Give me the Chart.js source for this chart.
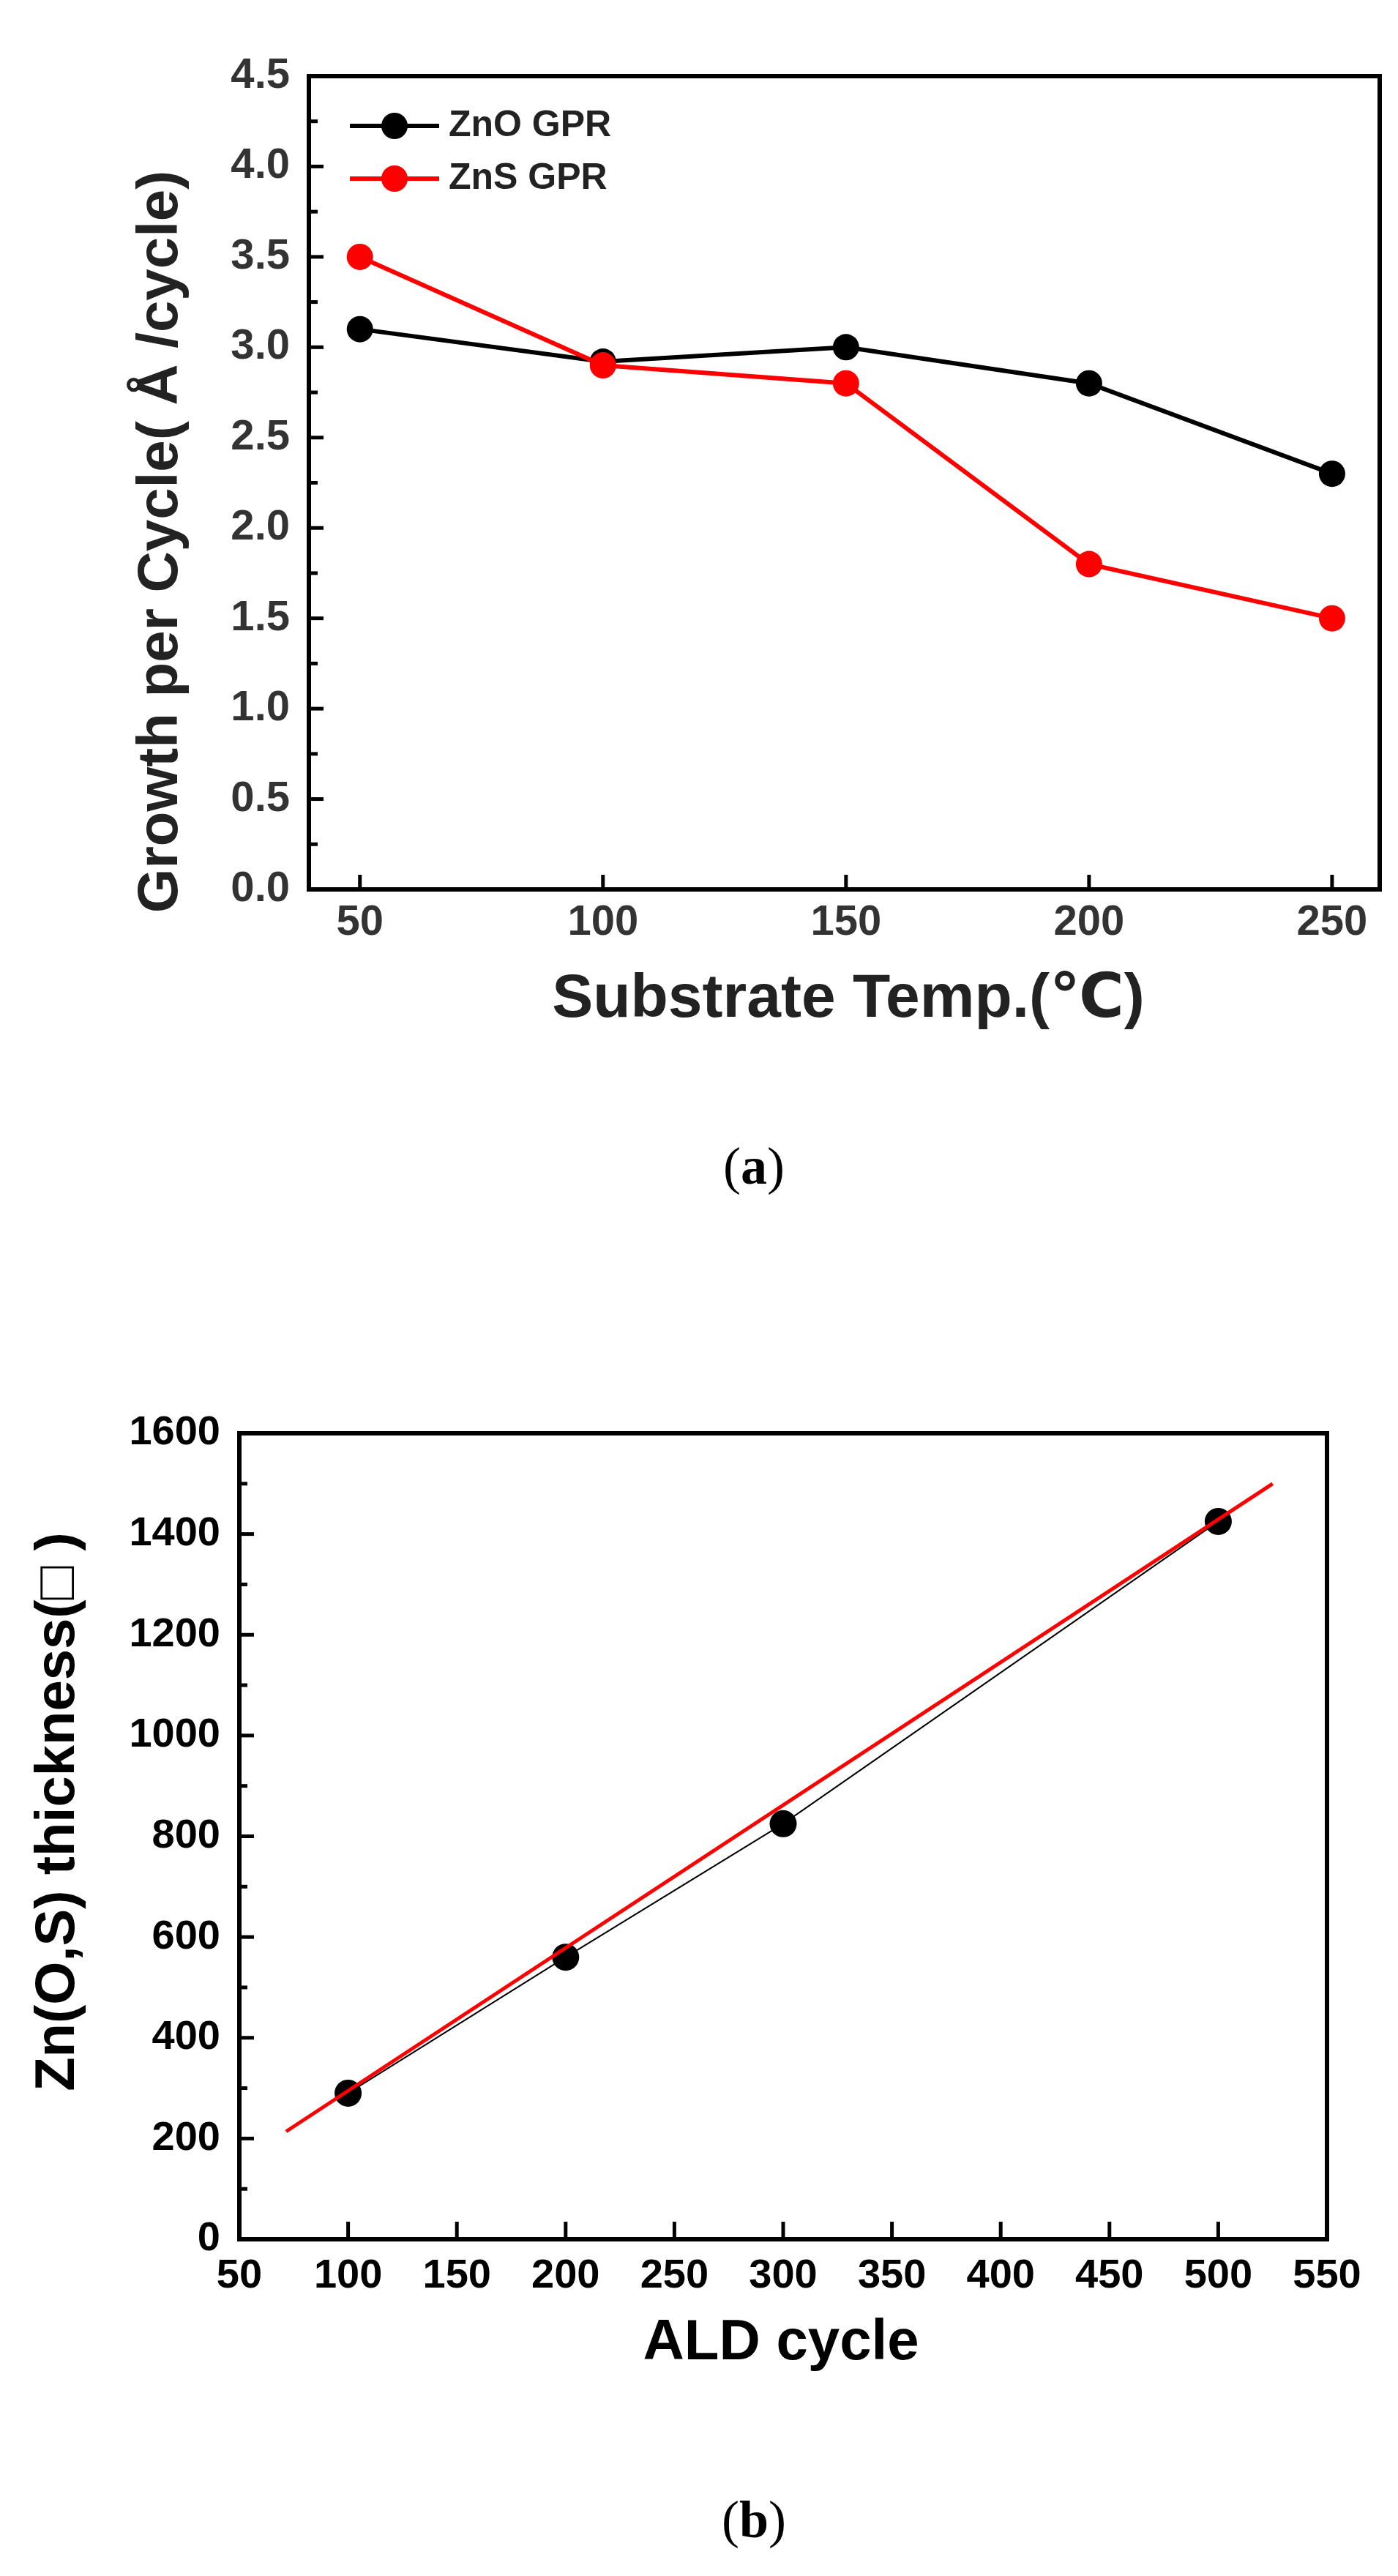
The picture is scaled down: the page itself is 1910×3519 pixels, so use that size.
<!DOCTYPE html>
<html>
<head>
<meta charset="utf-8">
<script src="https://cdn.jsdelivr.net/npm/chart.js@4.4.0/dist/chart.umd.min.js"></script>
<style>
  body { margin: 0; background: #fff; width: 1910px; height: 3519px; position: relative; overflow: hidden; }
  canvas { position: absolute; left: 0; }
  #gprChart { top: 0; }
  #thickChart { top: 1700px; }
  .caption { position: absolute; left: 930px; width: 200px; text-align: center; line-height: 1;
             font-family: "Liberation Serif", "Times New Roman", serif; font-size: 72px; color: #000; }
</style>
</head>
<body>
<canvas id="gprChart" width="1910" height="1500"></canvas>
<div class="caption" style="top:1557px">(<b>a</b>)</div>
<canvas id="thickChart" width="1910" height="1600"></canvas>
<div class="caption" style="top:3406px">(<b>b</b>)</div>

<script>
// (a) growth per cycle vs substrate temperature
const tempC = [50, 100, 150, 200, 250];
const znoGpr = [3.1, 2.92, 3.0, 2.8, 2.3];
const znsGpr = [3.5, 2.9, 2.8, 1.8, 1.5];
const gprTicksX = [50, 100, 150, 200, 250];
const gprTicksY = [0, 0.5, 1.0, 1.5, 2.0, 2.5, 3.0, 3.5, 4.0, 4.5];

// (b) film thickness vs ALD cycle, with linear fit
const aldCycle = [100, 200, 300, 500];
const thickness = [290, 560, 825, 1425];
const fitCycle = [71.5, 525];
const fitThickness = [214, 1500];
const thickTicksX = [50, 100, 150, 200, 250, 300, 350, 400, 450, 500, 550];
const thickTicksY = [0, 200, 400, 600, 800, 1000, 1200, 1400, 1600];

const SANS = '"Liberation Sans", Arial, "DejaVu Sans", "Noto Sans CJK SC", sans-serif';

const toPoints = (xs, ys) => xs.map((x, i) => ({ x: x, y: ys[i] }));
const setTicks = values => scale => { scale.ticks = values.map(v => ({ value: v })); };

// box frame + inward tick marks (minor ticks halfway between y labels)
const frameTicks = {
    id: 'frameTicks',
    afterDatasetsDraw(chart, args, opts) {
        const { ctx, chartArea: a, scales: { x, y } } = chart;
        ctx.save();
        ctx.strokeStyle = '#000';
        ctx.lineWidth = opts.tickWidth;
        ctx.lineCap = 'butt';
        const seg = (x1, y1, x2, y2) => { ctx.beginPath(); ctx.moveTo(x1, y1); ctx.lineTo(x2, y2); ctx.stroke(); };
        x.ticks.forEach(t => {
            const px = x.getPixelForValue(t.value);
            seg(px, a.bottom, px, a.bottom - opts.xMajor);
        });
        y.ticks.forEach((t, i) => {
            const py = y.getPixelForValue(t.value);
            seg(a.left, py, a.left + opts.yMajor, py);
            if (i < y.ticks.length - 1) {
                const pm = y.getPixelForValue((t.value + y.ticks[i + 1].value) / 2);
                seg(a.left, pm, a.left + opts.yMinor, pm);
            }
        });
        ctx.lineWidth = opts.frameWidth;
        ctx.strokeRect(a.left, a.top, a.width, a.height);
        ctx.restore();
    }
};

// axis titles placed like the original figure
const axisTitles = {
    id: 'axisTitles',
    afterDraw(chart, args, opts) {
        const ctx = chart.ctx;
        opts.items.forEach(it => {
            ctx.save();
            ctx.font = it.font;
            ctx.fillStyle = it.color || '#000';
            ctx.textAlign = 'center';
            ctx.textBaseline = 'middle';
            ctx.translate(it.x, it.y);
            ctx.rotate(it.rotate || 0);
            ctx.fillText(it.text, 0, 0);
            ctx.restore();
        });
    }
};

// line + marker legend inside the plot
const innerLegend = {
    id: 'innerLegend',
    afterDraw(chart, args, opts) {
        if (!opts.show) return;
        const ctx = chart.ctx;
        ctx.save();
        chart.data.datasets.forEach((ds, i) => {
            const yy = opts.y + i * opts.dy;
            ctx.strokeStyle = ds.borderColor;
            ctx.fillStyle = ds.borderColor;
            ctx.lineWidth = ds.borderWidth;
            ctx.beginPath(); ctx.moveTo(opts.x0, yy); ctx.lineTo(opts.x1, yy); ctx.stroke();
            ctx.beginPath(); ctx.arc((opts.x0 + opts.x1) / 2, yy, ds.pointRadius, 0, Math.PI * 2); ctx.fill();
            ctx.fillStyle = opts.color;
            ctx.font = opts.font;
            ctx.textAlign = 'left';
            ctx.textBaseline = 'middle';
            ctx.fillText(ds.label, opts.textX, yy);
        });
        ctx.restore();
    }
};

function axisOpts(min, max, ticks, fit, tickFont, tickColor, pad, fmt) {
    return {
        type: 'linear', min: min, max: max,
        afterBuildTicks: setTicks(ticks),
        afterFit: fit,
        grid: { display: false, drawTicks: false },
        border: { display: false },
        ticks: { autoSkip: false, maxRotation: 0, padding: pad, color: tickColor,
                 font: { family: SANS, size: tickFont, weight: 'bold' }, callback: fmt }
    };
}

// Chart (a)
new Chart(document.getElementById('gprChart').getContext('2d'), {
    type: 'line',
    data: {
        datasets: [{
            label: 'ZnO GPR',
            data: toPoints(tempC, znoGpr),
            borderColor: '#000', backgroundColor: '#000',
            borderWidth: 6, pointRadius: 18, pointBorderWidth: 0, order: 2
        }, {
            label: 'ZnS GPR',
            data: toPoints(tempC, znsGpr),
            borderColor: '#ff0000', backgroundColor: '#ff0000',
            borderWidth: 6, pointRadius: 18, pointBorderWidth: 0, order: 1
        }]
    },
    options: {
        responsive: false, animation: false, devicePixelRatio: 1,
        layout: { padding: { top: 104, right: 25, left: 0, bottom: 0 } },
        scales: {
            x: axisOpts(39.5, 259.8, gprTicksX, s => { s.height = 285; }, 58, '#333', 11, v => v),
            y: axisOpts(0, 4.5, gprTicksY, s => { s.width = 422; }, 58, '#333', 26, v => v.toFixed(1))
        },
        plugins: {
            legend: { display: false },
            tooltip: { enabled: false },
            frameTicks: { tickWidth: 5, frameWidth: 6, xMajor: 20, yMajor: 20, yMinor: 12 },
            innerLegend: { show: true, x0: 478, x1: 600, y: 172, dy: 72, textX: 613,
                           font: 'bold 50px ' + SANS, color: '#222' },
            axisTitles: { items: [
                { text: 'Growth per Cycle( Å /cycle)', x: 220, y: 740, rotate: -Math.PI / 2,
                  font: 'bold 78px ' + SANS, color: '#222' },
                { text: 'Substrate Temp.(℃)', x: 1159, y: 1366, font: 'bold 84px ' + SANS, color: '#222' }
            ] }
        }
    },
    plugins: [frameTicks, innerLegend, axisTitles]
});

// Chart (b)
new Chart(document.getElementById('thickChart').getContext('2d'), {
    type: 'line',
    data: {
        datasets: [{
            label: 'Zn(O,S) thickness',
            data: toPoints(aldCycle, thickness),
            borderColor: '#000', backgroundColor: '#000',
            borderWidth: 2, pointRadius: 18.5, pointBorderWidth: 0, order: 2
        }, {
            label: 'Linear fit',
            data: toPoints(fitCycle, fitThickness),
            borderColor: '#ff0000', borderWidth: 5, pointRadius: 0, order: 1
        }]
    },
    options: {
        responsive: false, animation: false, devicePixelRatio: 1,
        layout: { padding: { top: 258, right: 97, left: 0, bottom: 0 } },
        scales: {
            x: axisOpts(50, 550, thickTicksX, s => { s.height = 241; }, 56, '#000', 17, v => v),
            y: axisOpts(0, 1600, thickTicksY, s => { s.width = 327; }, 56, '#000', 26, v => v)
        },
        plugins: {
            legend: { display: false },
            tooltip: { enabled: false },
            frameTicks: { tickWidth: 5, frameWidth: 6, xMajor: 24, yMajor: 20, yMinor: 11 },
            innerLegend: { show: false },
            axisTitles: { items: [
                { text: 'Zn(O,S) thickness(□ )', x: 80, y: 775, rotate: -Math.PI / 2,
                  font: 'bold 76px ' + SANS },
                { text: 'ALD cycle', x: 1067, y: 1501, font: 'bold 78px ' + SANS }
            ] }
        }
    },
    plugins: [frameTicks, innerLegend, axisTitles]
});
</script>
</body>
</html>
